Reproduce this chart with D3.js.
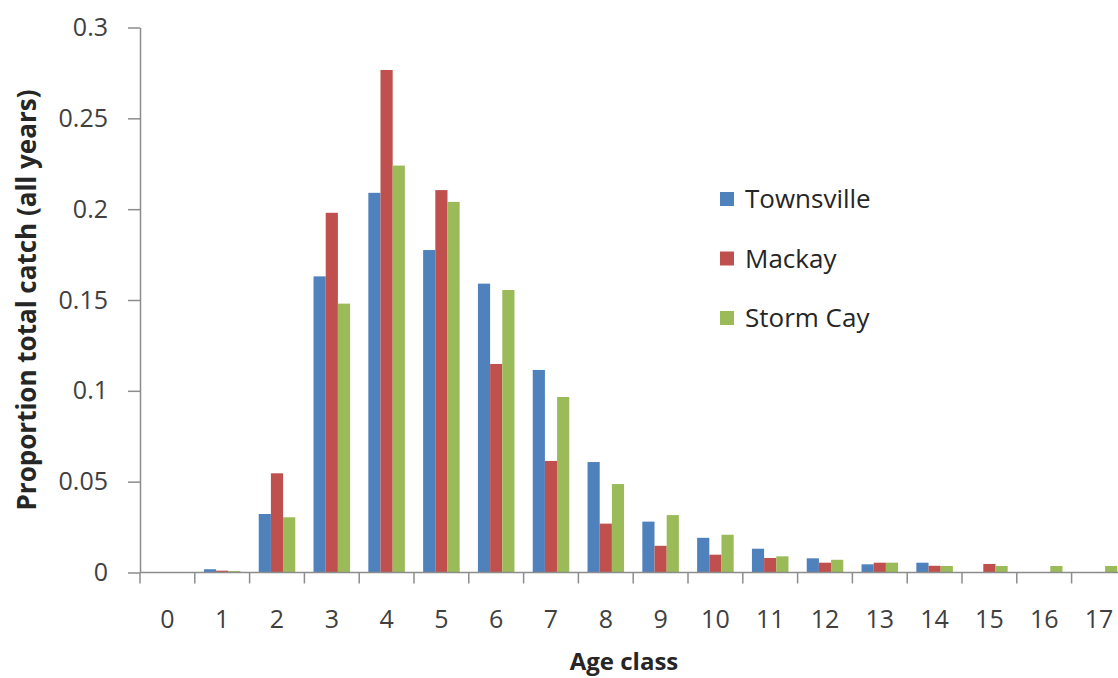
<!DOCTYPE html>
<html>
<head>
<meta charset="utf-8">
<script src="https://cdn.jsdelivr.net/npm/d3@7"></script>
<style>
  body { margin: 0; background: #fff; }
  svg { display: block; font-family: "Open Sans", sans-serif; }
</style>
</head>
<body>
<svg width="1118" height="678"></svg>
<script>
// age classes on the x axis
const ageClasses = ['0','1','2','3','4','5','6','7','8','9','10','11','12','13','14','15','16','17'];
const seriesNames = ['Townsville', 'Mackay', 'Storm Cay'];
const seriesColors = ['#4F81BD', '#C0504D', '#9BBB59'];

// proportion of total catch
const townsville = [0, 0.0018, 0.0322, 0.163, 0.209, 0.1775, 0.159, 0.1115, 0.0608, 0.028, 0.0191, 0.0131, 0.0078, 0.0045, 0.0054, 0, 0, 0];
const mackay     = [0, 0.001, 0.0546, 0.198, 0.2766, 0.2105, 0.1148, 0.0614, 0.0269, 0.0147, 0.0098, 0.008, 0.0054, 0.0054, 0.0037, 0.0047, 0, 0];
const stormCay   = [0, 0.0008, 0.0304, 0.148, 0.224, 0.204, 0.1555, 0.0966, 0.0487, 0.0316, 0.0208, 0.0089, 0.007, 0.0054, 0.0036, 0.0036, 0.0036, 0.0036];

const yTicks = [0, 0.05, 0.1, 0.15, 0.2, 0.25, 0.3];

const svg = d3.select('svg');
const plotLeft = 140, plotRight = 1126.4, plotTop = 27.5, plotBottom = 572.5;

const x = d3.scaleBand().domain(ageClasses).range([plotLeft, plotRight]).paddingInner(0).paddingOuter(0);
// bars take 3 of 4.5 bar-widths in each band
const barW = x.bandwidth() / 4.5;
const xs = d3.scaleBand().domain(seriesNames).range([0, barW * 3]);
const y = d3.scaleLinear().domain([0, 0.3]).range([plotBottom, plotTop]);

const data = ageClasses.map((a, i) => ({
    age: a,
    values: [townsville[i], mackay[i], stormCay[i]]
}));

// Bars
const groups = svg.append('g').selectAll('g')
    .data(data)
    .enter()
    .append('g')
    .attr('transform', d => `translate(${x(d.age) + barW * 0.75},0)`);

groups.selectAll('rect')
    .data(d => d.values.map((v, j) => ({ v: v, name: seriesNames[j], color: seriesColors[j] })))
    .enter()
    .append('rect')
    .attr('x', d => xs(d.name))
    .attr('width', xs.bandwidth())
    .attr('y', d => y(d.v))
    .attr('height', d => plotBottom - y(d.v))
    .attr('fill', d => d.color);

// Y axis
const yAxis = svg.append('g')
    .attr('transform', `translate(${plotLeft},0)`)
    .call(d3.axisLeft(y).tickValues(yTicks).tickFormat(d => d === 0 ? '0' : String(+d.toFixed(2))).tickSize(12).tickPadding(20).tickSizeOuter(0));
yAxis.select('.domain').attr('stroke', '#8c8c8c').attr('stroke-width', 1.5);
yAxis.selectAll('.tick line').attr('stroke', '#8c8c8c').attr('stroke-width', 1.5);
yAxis.selectAll('.tick text').attr('font-size', 25).attr('fill', '#404040').attr('font-family', '"Open Sans", sans-serif');

// X axis: ticks at category boundaries
const xAxis = svg.append('g').attr('transform', `translate(0,${plotBottom})`);
xAxis.append('line')
    .attr('x1', plotLeft).attr('x2', plotRight)
    .attr('stroke', '#8c8c8c').attr('stroke-width', 1.5);
xAxis.selectAll('line.tk')
    .data(ageClasses)
    .enter()
    .append('line')
    .attr('class', 'tk')
    .attr('x1', d => x(d)).attr('x2', d => x(d))
    .attr('y1', 0).attr('y2', 11)
    .attr('stroke', '#8c8c8c').attr('stroke-width', 1.5);
xAxis.selectAll('text')
    .data(ageClasses)
    .enter()
    .append('text')
    .attr('x', d => x(d) + x.bandwidth() / 2)
    .attr('y', 55)
    .attr('text-anchor', 'middle')
    .attr('font-size', 25)
    .attr('fill', '#404040')
    .text(d => d);

// Axis titles
svg.append('text')
    .attr('x', 624)
    .attr('y', 670)
    .attr('text-anchor', 'middle')
    .attr('font-size', 24)
    .attr('font-weight', 'bold')
    .attr('fill', '#262626')
    .text('Age class');

svg.append('text')
    .attr('transform', `translate(36,${(plotTop + plotBottom) / 2}) rotate(-90)`)
    .attr('text-anchor', 'middle')
    .attr('font-size', 26)
    .attr('font-weight', 'bold')
    .attr('fill', '#262626')
    .text('Proportion  total catch (all years)');

// Legend
const legend = svg.append('g').selectAll('g')
    .data(seriesNames)
    .enter()
    .append('g')
    .attr('transform', (d, i) => `translate(720,${199 + i * 59.5})`);
legend.append('rect')
    .attr('x', 0).attr('y', -7)
    .attr('width', 14).attr('height', 14)
    .attr('fill', (d, i) => seriesColors[i]);
legend.append('text')
    .attr('x', 25)
    .attr('y', 9)
    .attr('font-size', 26)
    .attr('fill', '#262626')
    .text(d => d);
</script>
</body>
</html>
